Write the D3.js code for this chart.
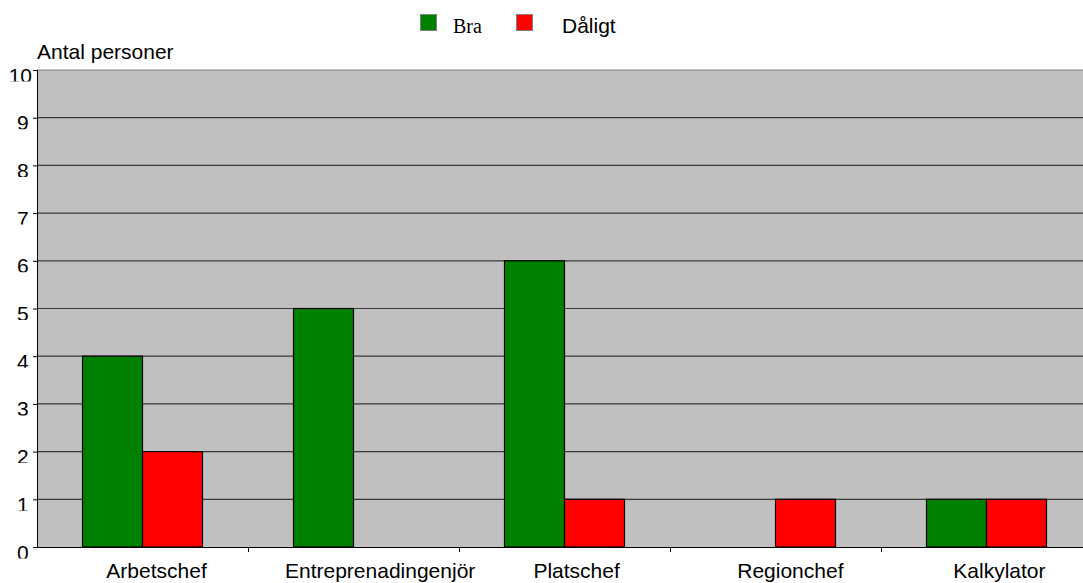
<!DOCTYPE html>
<html>
<head>
<meta charset="utf-8">
<script src="https://cdn.jsdelivr.net/npm/d3@7"></script>
<style>
  html, body { margin: 0; padding: 0; background: #ffffff; }
  svg { display: block; }
</style>
</head>
<body>
<svg id="chart" width="1083" height="583"></svg>
<script>
// Antal personer per yrkesroll och bedömning
const categories = ["Arbetschef", "Entreprenadingenjör", "Platschef", "Regionchef", "Kalkylator"];
const seriesNames = ["Bra", "Dåligt"];
const braValues = [4, 5, 6, 0, 1];
const daligtValues = [2, 0, 1, 1, 1];
const yTicks = [0, 1, 2, 3, 4, 5, 6, 7, 8, 9, 10];
const seriesColors = ["#008000", "#ff0000"];

const SANS = "'Liberation Sans', Arial, sans-serif";
const SERIF = "'Liberation Serif', 'Times New Roman', serif";

const svg = d3.select("#chart");

const plot = { left: 37, right: 1092, top: 70, bottom: 547 };

const x0 = d3.scaleBand().domain(categories).range([plot.left, plot.right]).padding(0);
const bw = x0.bandwidth();
const x1 = d3.scaleBand().domain(seriesNames).range([bw / 2 - 60, bw / 2 + 60]).padding(0);
const y = d3.scaleLinear().domain([0, 10]).range([plot.bottom, plot.top]);

// plot background
svg.append("rect")
  .attr("x", plot.left).attr("y", plot.top)
  .attr("width", plot.right - plot.left).attr("height", plot.bottom - plot.top)
  .attr("fill", "#c0c0c0");

// horizontal gridlines
svg.append("g").selectAll("line")
  .data(yTicks.filter(d => d > 0))
  .join("line")
  .attr("x1", plot.left).attr("x2", plot.right)
  .attr("y1", d => y(d)).attr("y2", d => y(d))
  .attr("stroke", d => d === 10 ? "#808080" : "#3a3a3a")
  .attr("stroke-width", 1.2);

// bars
const rows = categories.map((c, i) => ({ cat: c, vals: [braValues[i], daligtValues[i]] }));
const groups = svg.append("g").selectAll("g")
  .data(rows)
  .join("g")
  .attr("transform", d => `translate(${x0(d.cat)},0)`);

groups.selectAll("rect")
  .data(d => d.vals.map((v, k) => ({ key: seriesNames[k], v, k })).filter(e => e.v > 0))
  .join("rect")
  .attr("x", d => x1(d.key))
  .attr("width", x1.bandwidth())
  .attr("y", d => y(d.v))
  .attr("height", d => y(0) - y(d.v))
  .attr("fill", d => seriesColors[d.k])
  .attr("stroke", "#000")
  .attr("stroke-width", 1.2);

// y axis
const yAxis = svg.append("g").attr("transform", `translate(${plot.left},0)`)
  .call(d3.axisLeft(y).tickValues(yTicks).tickSize(4).tickPadding(0).tickFormat(d3.format("d")));
yAxis.select(".domain").attr("stroke", "#000").attr("d", `M0.5,${plot.top}V${plot.bottom}`);
yAxis.selectAll(".tick line").attr("stroke", "#000");

const defs = svg.append("defs");
yAxis.selectAll(".tick").each(function (d, i) {
  const t = d3.select(this);
  const txt = t.select("text")
    .attr("font-size", 21)
    .style("font-family", SANS)
    .attr("fill", "#000")
    .attr("text-anchor", "start")
    .attr("dy", null)
    .attr("y", 12);
  const w = txt.node().getComputedTextLength();
  txt.attr("x", -(plot.left - 25.5) - 0.72 * w);
  const id = "lblclip" + i;
  defs.append("clipPath").attr("id", id)
    .append("rect").attr("x", -40).attr("y", -5).attr("width", 40).attr("height", 16);
  txt.attr("clip-path", `url(#${id})`);
});

// x axis
const xAxis = svg.append("g").attr("transform", `translate(0,${plot.bottom})`)
  .call(d3.axisBottom(x0).tickSize(0).tickPadding(0));
xAxis.select(".domain").attr("stroke", "#000").attr("d", `M${plot.left},0.5H${plot.right}`);
xAxis.selectAll(".tick text")
  .attr("font-size", 21)
  .style("font-family", SANS)
  .attr("fill", "#000")
  .attr("dy", null)
  .attr("y", 31)
  .each(function () {
    const w = this.getComputedTextLength();
    d3.select(this).attr("x", 0.14 * w);
  });

// category separator ticks
svg.append("g").selectAll("line")
  .data(categories.slice(1))
  .join("line")
  .attr("x1", d => x0(d) + 0.5).attr("x2", d => x0(d) + 0.5)
  .attr("y1", plot.bottom).attr("y2", plot.bottom + 5)
  .attr("stroke", "#000");

// y axis title
svg.append("text")
  .attr("x", plot.left).attr("y", 59)
  .attr("font-size", 21)
  .style("font-family", SANS)
  .text("Antal personer");

// legend
const legendItems = [
  { name: seriesNames[0], color: seriesColors[0], sx: 420, tx: 453, font: SERIF, size: 20 },
  { name: seriesNames[1], color: seriesColors[1], sx: 516, tx: 562, font: SANS, size: 21 }
];
const legend = svg.append("g");
legend.selectAll("rect")
  .data(legendItems)
  .join("rect")
  .attr("x", d => d.sx + 0.5).attr("y", 14.5)
  .attr("width", 16).attr("height", 16)
  .attr("fill", d => d.color)
  .attr("stroke", "#808080")
  .attr("stroke-width", 1);
legend.selectAll("text")
  .data(legendItems)
  .join("text")
  .attr("x", d => d.tx).attr("y", 33)
  .style("font-family", d => d.font)
  .attr("font-size", d => d.size)
  .text(d => d.name);
</script>
</body>
</html>
